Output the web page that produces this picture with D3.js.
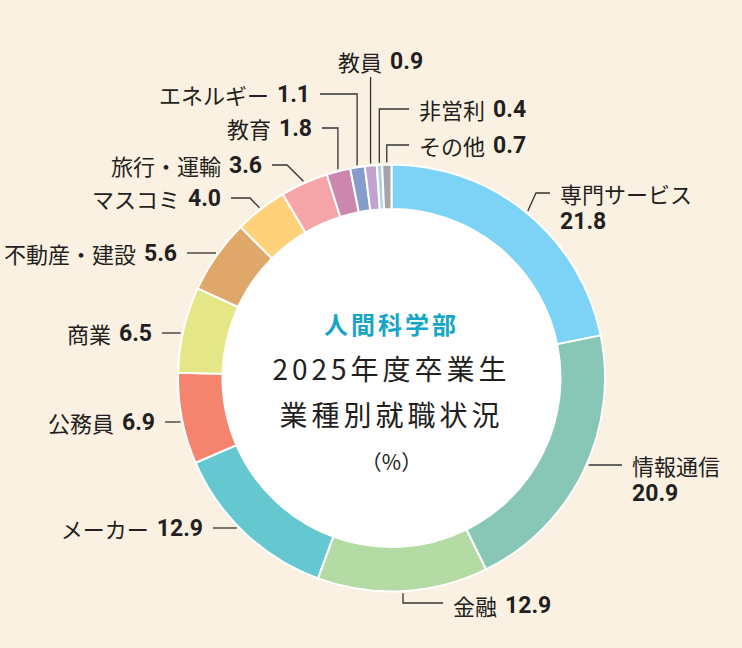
<!DOCTYPE html>
<html lang="ja">
<head>
<meta charset="utf-8">
<script src="https://cdn.jsdelivr.net/npm/d3@7"></script>
<style>
  html, body { margin: 0; padding: 0; background: #faf1e2; }
  text { font-family: "Noto Sans CJK JP", sans-serif; fill: #231f20; }
  .val { font-family: Roboto, "Noto Sans CJK JP", sans-serif; font-weight: 700; font-size: 23px; }
</style>
</head>
<body>
<div id="chart-area"></div>
<script>
// 業種別就職状況 (%)
var categories = ["専門サービス", "情報通信", "金融", "メーカー", "公務員", "商業", "不動産・建設",
    "マスコミ", "旅行・運輸", "教育", "エネルギー", "教員", "非営利", "その他"]
var shares = [21.8, 20.9, 12.9, 12.9, 6.9, 6.5, 5.6, 4.0, 3.6, 1.8, 1.1, 0.9, 0.4, 0.7]
var sliceColors = ["#7dd3f5", "#88c7b5", "#b4dba3", "#65c8d1", "#f4846e", "#e5e686", "#dfa76a",
    "#fed17a", "#f5a5a7", "#cb87ae", "#869dcb", "#c2a3d0", "#a9d3e3", "#a5a5a8"]
var centerLines = ["人間科学部", "2025年度卒業生", "業種別就職状況", "（%）"]

// label placement, one per category (same order)
var labelLayout = [
    { tx: 560, ty: 193, anchor: "start", kind: "d", elbowX: 536, twoLine: true },
    { tx: 632, ty: 465, anchor: "start", kind: "h", twoLine: true },
    { tx: 453, ty: 605, anchor: "start", kind: "hv", lineY: 603 },
    { tx: 203, ty: 528, anchor: "end", kind: "h" },
    { tx: 155, ty: 422, anchor: "end", kind: "h" },
    { tx: 152, ty: 333, anchor: "end", kind: "h" },
    { tx: 177, ty: 253, anchor: "end", kind: "h" },
    { tx: 221, ty: 198, anchor: "end", kind: "d", elbowX: 250 },
    { tx: 262, ty: 165, anchor: "end", kind: "d", elbowX: 287 },
    { tx: 312, ty: 128, anchor: "end", kind: "hv" },
    { tx: 310, ty: 94, anchor: "end", kind: "hv" },
    { tx: 338, ty: 61, anchor: "start", kind: "v", lineY: 77 },
    { tx: 419, ty: 109, anchor: "start", kind: "hv" },
    { tx: 419, ty: 145, anchor: "start", kind: "hv" }
]

var width = 742, height = 648
var cx = 391.5, cy = 378
var outerR = 213.5, innerR = 169, leadR = outerR + 2
var fmt = d3.format(".1f")

var svg = d3.select("#chart-area")
    .append("svg")
    .attr("width", width)
    .attr("height", height)
svg.append("rect")
    .attr("width", width)
    .attr("height", height)
    .attr("fill", "#faf1e2")

var g = svg.append("g")
    .attr("transform", "translate(" + cx + "," + cy + ")")

var pie = d3.pie().sort(null).value(d => d.value)
var arc = d3.arc().innerRadius(innerR).outerRadius(outerR)

var data = categories.map((c, i) => ({ name: c, value: shares[i], color: sliceColors[i], layout: labelLayout[i] }))
var arcs = pie(data)

g.append("circle")
    .attr("r", innerR)
    .attr("fill", "#fff")

g.selectAll("path.slice")
    .data(arcs)
    .enter()
    .append("path")
    .attr("class", "slice")
    .attr("d", arc)
    .attr("fill", d => d.data.color)
    .attr("stroke", "#fff")
    .attr("stroke-width", 2)
    .attr("stroke-linejoin", "round")

// leader lines (in absolute page coords)
function ringPoint(d) {
    var a = (d.startAngle + d.endAngle) / 2
    return [cx + leadR * Math.sin(a), cy - leadR * Math.cos(a)]
}
function textEdge(L) {
    return L.anchor == "end" ? L.tx + 10 : L.tx - 10
}
function leaderPoints(d) {
    var L = d.data.layout, p = ringPoint(d)
    if (L.kind == "h") {
        var dx = Math.sqrt(leadR * leadR - (L.ty - cy) * (L.ty - cy))
        var x = L.anchor == "end" ? cx - dx : cx + dx
        return [[textEdge(L), L.ty], [x, L.ty]]
    }
    if (L.kind == "hv") {
        var y = L.lineY || L.ty
        return [p, [p[0], y], [textEdge(L), y]]
    }
    if (L.kind == "v") {
        return [p, [p[0], L.lineY]]
    }
    // diagonal then horizontal
    return [p, [L.elbowX, L.ty], [textEdge(L), L.ty]]
}

svg.selectAll("path.leader")
    .data(arcs)
    .enter()
    .append("path")
    .attr("class", "leader")
    .attr("d", d => d3.line()(leaderPoints(d)))
    .attr("fill", "none")
    .attr("stroke", "#333")
    .attr("stroke-width", 1.3)

// labels
var labels = svg.selectAll("text.label")
    .data(arcs)
    .enter()
    .append("text")
    .attr("class", "label")
    .attr("x", d => d.data.layout.tx)
    .attr("y", d => d.data.layout.ty)
    .attr("text-anchor", d => d.data.layout.anchor)
    .attr("dominant-baseline", "central")
    .attr("font-size", "22px")

labels.append("tspan")
    .text(d => d.data.name)
labels.append("tspan")
    .attr("class", "val")
    .attr("x", d => d.data.layout.twoLine ? d.data.layout.tx : null)
    .attr("dy", d => d.data.layout.twoLine ? 28 : null)
    .attr("dx", d => d.data.layout.twoLine ? null : 8)
    .text(d => fmt(d.data.value))

// centre title
svg.append("text")
    .attr("x", cx)
    .attr("y", 323)
    .attr("text-anchor", "middle")
    .attr("dominant-baseline", "central")
    .attr("font-size", "24px")
    .attr("font-weight", 700)
    .attr("letter-spacing", "3px")
    .style("fill", "#15a6c6")
    .text(centerLines[0])
svg.append("text")
    .attr("x", cx)
    .attr("y", 368)
    .attr("text-anchor", "middle")
    .attr("dominant-baseline", "central")
    .attr("font-size", "28px")
    .attr("letter-spacing", "4px")
    .text(centerLines[1])
svg.append("text")
    .attr("x", cx)
    .attr("y", 414)
    .attr("text-anchor", "middle")
    .attr("dominant-baseline", "central")
    .attr("font-size", "28px")
    .attr("letter-spacing", "4px")
    .text(centerLines[2])
svg.append("text")
    .attr("x", cx)
    .attr("y", 461)
    .attr("text-anchor", "middle")
    .attr("dominant-baseline", "central")
    .attr("font-size", "21px")
    .text(centerLines[3])
</script>
</body>
</html>
